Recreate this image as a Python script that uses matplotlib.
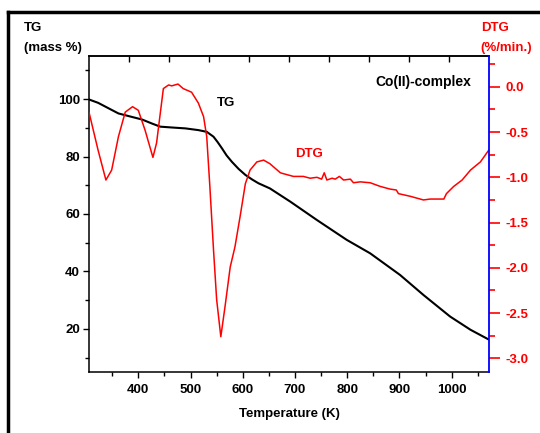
import matplotlib
matplotlib.use("Agg")
import matplotlib.pyplot as plt
from matplotlib.lines import Line2D
from matplotlib.ticker import MultipleLocator, NullFormatter

plt.rcParams["font.family"] = ["Liberation Sans", "DejaVu Sans"]
plt.rcParams["font.weight"] = "bold"

# TG curve (mass %) vs temperature (K)
tg_temp = [305, 323, 343, 362, 381, 407, 426, 442, 465, 490, 515, 531, 544,
           552, 560, 569, 579, 592, 605, 618, 630, 652, 691, 742, 799, 844,
           901, 946, 997, 1036, 1072]
tg_mass = [99.9, 98.7, 96.8, 95.0, 94.1, 92.9, 91.5, 90.4, 90.1, 89.8, 89.2,
           88.6, 86.9, 85.0, 82.9, 80.4, 78.2, 75.7, 73.6, 72.0, 70.7, 68.9,
           64.3, 57.9, 51.0, 46.3, 38.8, 31.8, 24.3, 19.7, 16.2]

# DTG curve (%/min.) vs temperature (K)
dtg_temp = [306, 323, 338, 349, 362, 375, 389, 400, 413, 428, 435, 448, 458,
            464, 470, 476, 486, 502, 515, 525, 531, 537, 544, 550, 558, 566,
            576, 585, 595, 605, 614, 627, 640, 652, 672, 678, 697, 716, 729,
            742, 751, 756, 761, 771, 777, 785, 793, 806, 812, 825, 844, 863,
            882, 894, 898, 921, 946, 959, 985, 990, 1004, 1020, 1036, 1055, 1071]
dtg_val = [-0.29, -0.70, -1.03, -0.92, -0.55, -0.28, -0.22, -0.26, -0.48,
           -0.78, -0.62, -0.02, 0.02, 0.01, 0.02, 0.03, -0.02, -0.06, -0.18,
           -0.33, -0.55, -1.10, -1.80, -2.35, -2.76, -2.43, -1.99, -1.77,
           -1.43, -1.07, -0.92, -0.83, -0.81, -0.85, -0.95, -0.96, -0.99,
           -0.99, -1.01, -1.00, -1.02, -0.95, -1.03, -1.01, -1.02, -0.99,
           -1.03, -1.02, -1.06, -1.05, -1.06, -1.10, -1.13, -1.14, -1.18,
           -1.21, -1.25, -1.24, -1.24, -1.18, -1.10, -1.03, -0.92, -0.83, -0.70]

fig = plt.figure(figsize=(5.4, 4.33), dpi=100)
ax = fig.add_axes([0.1648, 0.1409, 0.7408, 0.7298])
ax2 = ax.twinx()

ax.plot(tg_temp, tg_mass, color="black", lw=1.5, zorder=3)
ax2.plot(dtg_temp, dtg_val, color="red", lw=1.1)

ax.set_xlim(305.6, 1071.5)
ax.set_ylim(5, 115)
ax2.set_ylim(-3.15, 0.34)

ax.xaxis.set_major_locator(MultipleLocator(100))
ax.xaxis.set_minor_locator(MultipleLocator(50))
ax.yaxis.set_major_locator(MultipleLocator(20))
ax.yaxis.set_minor_locator(MultipleLocator(10))
ax2.yaxis.set_major_locator(MultipleLocator(0.5))
ax2.yaxis.set_minor_locator(MultipleLocator(0.25))
ax2.yaxis.set_major_formatter(plt.FuncFormatter(lambda v, p: "%.1f" % v))

fs = 9.5
ax.tick_params(axis="x", which="major", direction="out", length=4, width=1,
               pad=5, labelsize=fs)
ax.tick_params(axis="x", which="minor", direction="out", length=3, width=1)
ax.tick_params(axis="y", which="major", direction="out", length=4, width=1,
               pad=2.5, labelsize=fs)
ax.tick_params(axis="y", which="minor", direction="out", length=3, width=1)
ax2.tick_params(axis="y", which="major", direction="out", length=8, width=1.2,
                pad=4, labelsize=fs, colors="red")
ax2.tick_params(axis="y", which="minor", direction="out", length=4.5,
                width=1.2, colors="red")

# top axis: ticks only, ten divisions
top = ax.secondary_xaxis("top")
x0, x1 = ax.get_xlim()
top.set_xticks([x0 + k * (x1 - x0) / 10 for k in range(1, 10)])
top.xaxis.set_major_formatter(NullFormatter())
top.tick_params(direction="in", length=4, width=1)

for s in ["left", "bottom", "top"]:
    ax.spines[s].set_linewidth(1.1)
ax.spines["right"].set_visible(False)
for s in ["left", "bottom", "top"]:
    ax2.spines[s].set_visible(False)
ax2.spines["right"].set_color("blue")
ax2.spines["right"].set_linewidth(1.3)
top.spines["top"].set_linewidth(1.1)

ax.set_xlabel("Temperature (K)", fontsize=fs, fontweight="bold", labelpad=8)

fig.text(24 / 540, 1 - 28 / 433, "TG", fontsize=fs, fontweight="bold",
         ha="left", va="center")
fig.text(24 / 540, 1 - 48 / 433, "(mass %)", fontsize=fs, fontweight="bold",
         ha="left", va="center")
fig.text(481 / 540, 1 - 28 / 433, "DTG", fontsize=fs, fontweight="bold",
         ha="left", va="center", color="red")
fig.text(480 / 540, 1 - 48 / 433, "(%/min.)", fontsize=fs, fontweight="bold",
         ha="left", va="center", color="red")

fig.text(217 / 540, 1 - 103 / 433, "TG", fontsize=fs, fontweight="bold",
         ha="left", va="center")
fig.text(295 / 540, 1 - 154 / 433, "DTG", fontsize=fs, fontweight="bold",
         ha="left", va="center", color="red")
fig.text(375 / 540, 1 - 81.5 / 433, "Co(II)-complex", fontsize=10,
         fontweight="bold", ha="left", va="center")

# outer frame (top and left edges)
fig.add_artist(Line2D([8 / 540, 1], [1 - 12 / 433, 1 - 12 / 433],
                      transform=fig.transFigure, color="black", lw=2.5))
fig.add_artist(Line2D([8 / 540, 8 / 540], [0, 1 - 12 / 433],
                      transform=fig.transFigure, color="black", lw=2.5))

fig.savefig("out.png", dpi=100)
